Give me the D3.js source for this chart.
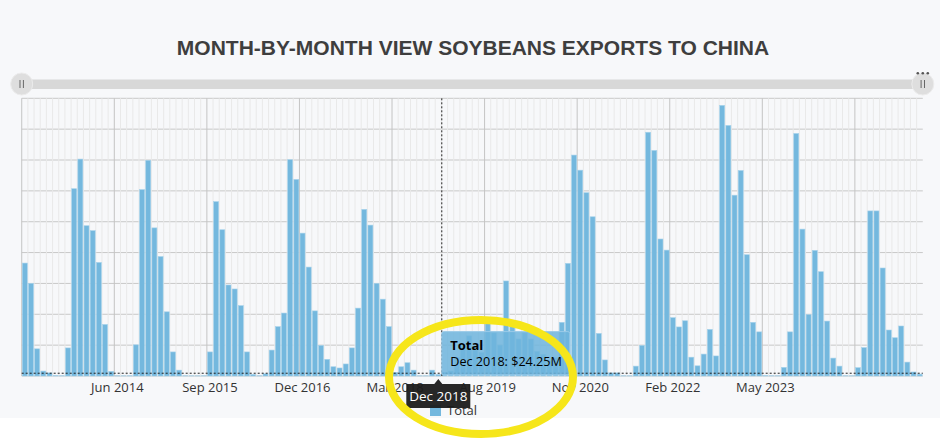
<!DOCTYPE html>
<html>
<head>
<meta charset="utf-8">
<script src="https://cdn.jsdelivr.net/npm/d3@7"></script>
<style>
  body { margin: 0; background: #ffffff; }
  svg { display: block; font-family: 'Segoe UI', 'Open Sans', sans-serif; }
</style>
</head>
<body>
<svg id="drawing_region"></svg>
<script>
// month range of the series (two months with no shipments are left out)
const firstMonth = '2013-03';
const lastMonth = '2025-06';
const skippedMonths = [ '2018-09', '2018-10' ];

const tickLabels = [ 'Jun 2014', 'Sep 2015', 'Dec 2016', 'Mar 2018', 'Aug 2019', 'Nov 2020', 'Feb 2022', 'May 2023' ];

// soybean exports to China, $M per month
const exportValues = [
    1830, 1500, 440, 80, 50, 5, 4, 455, 3035, 3515, 2435, 2355, 1840, 835, 75,
    4, 3, 4, 505, 3020, 3495, 2400, 1935, 1040, 390, 95, 4, 3, 3, 4,
    390, 2825, 2370, 1475, 1410, 1140, 390, 25, 4, 35, 420, 800, 1020, 3505, 3185,
    2315, 1765, 1055, 495, 270, 150, 130, 195, 455, 1100, 2700, 2445, 1500, 1245, 800,
    60, 150, 215, 95, 3, 3, 95, 24.25, 60, 80, 300, 500, 650, 420, 380,
    905, 700, 500, 1540, 825, 600, 700, 600, 400, 350, 250, 300, 870, 1825, 3580,
    3335, 2970, 2580, 690, 260, 50, 50, 4, 3, 160, 495, 3950, 3655, 2220, 2040,
    945, 795, 895, 305, 165, 355, 755, 325, 4385, 4060, 2930, 3330, 1965, 870, 715,
    5, 4, 4, 140, 715, 3930, 2380, 995, 2035, 1690, 890, 290, 160, 4, 3,
    135, 460, 2675, 2675, 1750, 745, 620, 810, 225, 65, 30
];

const yTickStep = 500;
const yMax = 4500;

// hovered point shown in the reference
const hoverLabel = 'Dec 2018';
const cursorValue = 45;

const monthFormat = d3.timeFormat( '%b %Y' );
const keyFormat = d3.timeFormat( '%Y-%m' );
const parseMonth = d3.timeParse( '%Y-%m' );

const months = d3.timeMonths( parseMonth( firstMonth ), d3.timeMonth.offset( parseMonth( lastMonth ), 1 ) )
    .filter( m => !skippedMonths.includes( keyFormat( m ) ) );

const data = months.map( ( m, i ) => ( { label: monthFormat( m ), value: exportValues[i] } ) );

class ColumnChart {

    constructor( config, data ) {
        this.config = {
            parent: config.parent,
            width: config.width || 940,
            height: config.height || 442,
            margin: config.margin || { top:98.3, right:17.2, bottom:66, left:21.7 }
        }
        this.data = data;
        this.init();
    }

    init() {
        let self = this;

        self.svg = d3.select( self.config.parent )
            .attr( 'width', self.config.width )
            .attr( 'height', self.config.height );

        self.inner_width = self.config.width - self.config.margin.left - self.config.margin.right;
        self.inner_height = self.config.height - self.config.margin.top - self.config.margin.bottom;

        self.svg.append( 'rect' )
            .attr( 'width', self.config.width )
            .attr( 'height', 418 )
            .attr( 'fill', '#f7f8fa' );

        self.svg.append( 'text' )
            .attr( 'x', 473 )
            .attr( 'y', 55 )
            .attr( 'text-anchor', 'middle' )
            .style( 'font-family', "'Liberation Sans', Arial, sans-serif" )
            .style( 'font-weight', 'bold' )
            .style( 'font-size', '21px' )
            .attr( 'fill', '#3e3e3e' )
            .text( 'MONTH-BY-MONTH VIEW SOYBEANS EXPORTS TO CHINA' );

        self.chart = self.svg.append( 'g' )
            .attr( 'transform', `translate(${self.config.margin.left}, ${self.config.margin.top})` );

        self.xscale = d3.scaleBand()
            .range( [ 0, self.inner_width ] )
            .paddingInner( 0.19 )
            .paddingOuter( 0.1 );

        self.yscale = d3.scaleLinear()
            .range( [ self.inner_height, 0 ] );

        self.grid_group = self.chart.append( 'g' );
        self.bar_group = self.chart.append( 'g' );
        self.xaxis_group = self.chart.append( 'g' )
            .attr( 'transform', `translate(0, ${self.inner_height})` );
        self.cursor_group = self.chart.append( 'g' );
        self.overlay = self.svg.append( 'g' );
    }

    update() {
        let self = this;

        self.xscale.domain( self.data.map( d => d.label ) );
        self.yscale.domain( [ 0, yMax ] );

        self.render();
    }

    render() {
        let self = this;
        const x = self.xscale, y = self.yscale;
        const step = x.step();
        const gap = step * x.paddingInner() / 2;

        // slider above the plot
        const sliderY = 84;
        self.overlay.append( 'rect' )
            .attr( 'x', self.config.margin.left )
            .attr( 'y', sliderY - 4.5 )
            .attr( 'width', self.inner_width )
            .attr( 'height', 9.5 )
            .attr( 'fill', '#d8d8d8' );
        [ self.config.margin.left, self.config.margin.left + self.inner_width ].forEach( hx => {
            self.overlay.append( 'circle' )
                .attr( 'cx', hx ).attr( 'cy', sliderY ).attr( 'r', 11 )
                .attr( 'fill', '#dedede' )
                .attr( 'stroke', '#ececec' );
            [ -1.7, 1.7 ].forEach( dx => {
                self.overlay.append( 'line' )
                    .attr( 'x1', hx + dx ).attr( 'x2', hx + dx )
                    .attr( 'y1', sliderY - 4 ).attr( 'y2', sliderY + 4 )
                    .attr( 'stroke', '#666' );
            } );
        } );
        [ -5, 0, 5 ].forEach( dx => {
            self.overlay.append( 'circle' )
                .attr( 'cx', self.config.margin.left + self.inner_width + dx )
                .attr( 'cy', 73.3 ).attr( 'r', 1.3 )
                .attr( 'fill', '#555' );
        } );

        // grid
        self.grid_group.selectAll( '.hgrid' )
            .data( d3.range( 0, yMax + 1, yTickStep ) )
            .join( 'line' )
            .attr( 'class', 'hgrid' )
            .attr( 'x1', 0 ).attr( 'x2', self.inner_width )
            .attr( 'y1', d => y( d ) ).attr( 'y2', d => y( d ) )
            .attr( 'stroke', '#c8c8c8' );

        self.grid_group.selectAll( '.vgrid' )
            .data( self.data )
            .join( 'line' )
            .attr( 'class', 'vgrid' )
            .attr( 'x1', d => x( d.label ) - gap ).attr( 'x2', d => x( d.label ) - gap )
            .attr( 'y1', 0 ).attr( 'y2', self.inner_height )
            .attr( 'stroke', ( d, i ) => i % 15 == 0 ? '#c4c4c4' : '#e9e9e9' );

        // columns
        self.bar_group.selectAll( 'rect' )
            .data( self.data )
            .join( 'rect' )
            .attr( 'x', d => x( d.label ) )
            .attr( 'y', d => y( d.value ) )
            .attr( 'width', x.bandwidth() )
            .attr( 'height', d => y( 0 ) - y( d.value ) )
            .attr( 'fill', '#74b8de' )
            .attr( 'stroke', '#a6d2eb' )
            .attr( 'stroke-width', 0.6 );

        // x labels
        self.xaxis_group.selectAll( 'text' )
            .data( tickLabels )
            .join( 'text' )
            .attr( 'x', d => x( d ) + x.bandwidth() / 2 )
            .attr( 'y', 15.5 )
            .attr( 'text-anchor', 'middle' )
            .style( 'font-size', '13px' )
            .attr( 'fill', '#333' )
            .text( d => d );

        // cursor
        const cx = x( hoverLabel ) + step - gap + 0.4;
        const cy = y( cursorValue );
        self.cursor_group.append( 'line' )
            .attr( 'x1', cx ).attr( 'x2', cx )
            .attr( 'y1', 0 ).attr( 'y2', self.inner_height )
            .attr( 'stroke', '#222' ).attr( 'stroke-dasharray', '2,2' );
        self.cursor_group.append( 'line' )
            .attr( 'x1', 0 ).attr( 'x2', self.inner_width )
            .attr( 'y1', cy ).attr( 'y2', cy )
            .attr( 'stroke', '#222' ).attr( 'stroke-dasharray', '2,2' );

        // series tooltip
        const hovered = self.data.find( d => d.label == hoverLabel );
        const tip = self.cursor_group.append( 'g' )
            .attr( 'transform', `translate(${cx}, ${cy})` );
        tip.append( 'rect' )
            .attr( 'x', 0 ).attr( 'y', -41.6 )
            .attr( 'width', 128 ).attr( 'height', 43.3 )
            .attr( 'rx', 2 )
            .attr( 'fill', '#6fb4dc' ).attr( 'fill-opacity', 0.86 )
            .attr( 'stroke', '#9ccbe8' );
        tip.append( 'text' )
            .attr( 'x', 8.5 ).attr( 'y', -23.5 )
            .style( 'font-size', '13px' ).style( 'font-weight', 'bold' )
            .attr( 'fill', '#000' )
            .text( 'Total' );
        tip.append( 'text' )
            .attr( 'x', 8.5 ).attr( 'y', -7 )
            .style( 'font-size', '12.6px' )
            .attr( 'fill', '#000' )
            .text( `${hovered.label}: $${hovered.value.toFixed( 2 )}M` );

        // legend
        const lx = 430, ly = 405;
        self.overlay.append( 'rect' )
            .attr( 'x', lx ).attr( 'y', ly )
            .attr( 'width', 11 ).attr( 'height', 11 )
            .attr( 'fill', '#74b8de' );
        self.overlay.append( 'text' )
            .attr( 'x', lx + 17 ).attr( 'y', ly + 10 )
            .style( 'font-size', '13px' )
            .attr( 'fill', '#333' )
            .text( 'Total' );

        // axis tooltip
        const ax = self.config.margin.left + x( hoverLabel ) + x.bandwidth() / 2;
        const ay = self.config.margin.top + self.inner_height + 8;
        const axisTip = self.overlay.append( 'g' )
            .attr( 'transform', `translate(${ax}, ${ay})` );
        axisTip.append( 'path' )
            .attr( 'd', 'M-32,0 H-4 L0,-5 L4,0 H32 V24 H-32 Z' )
            .attr( 'fill', '#1b1b1b' ).attr( 'fill-opacity', 0.95 );
        axisTip.append( 'text' )
            .attr( 'x', 0 ).attr( 'y', 17 )
            .attr( 'text-anchor', 'middle' )
            .style( 'font-size', '13.5px' )
            .attr( 'fill', '#fff' )
            .text( hoverLabel );

        // highlight ring
        self.overlay.append( 'ellipse' )
            .attr( 'cx', 481 ).attr( 'cy', 377 )
            .attr( 'rx', 92 ).attr( 'ry', 57 )
            .attr( 'fill', 'none' )
            .attr( 'stroke', '#f6e61a' )
            .attr( 'stroke-width', 8 );
    }
}

var config = {
    parent: '#drawing_region',
    width: 940,
    height: 442,
    margin: { top:98.3, right:17.2, bottom:66, left:21.7 }
};

const column_chart = new ColumnChart( config, data );
column_chart.update();
</script>
</body>
</html>
